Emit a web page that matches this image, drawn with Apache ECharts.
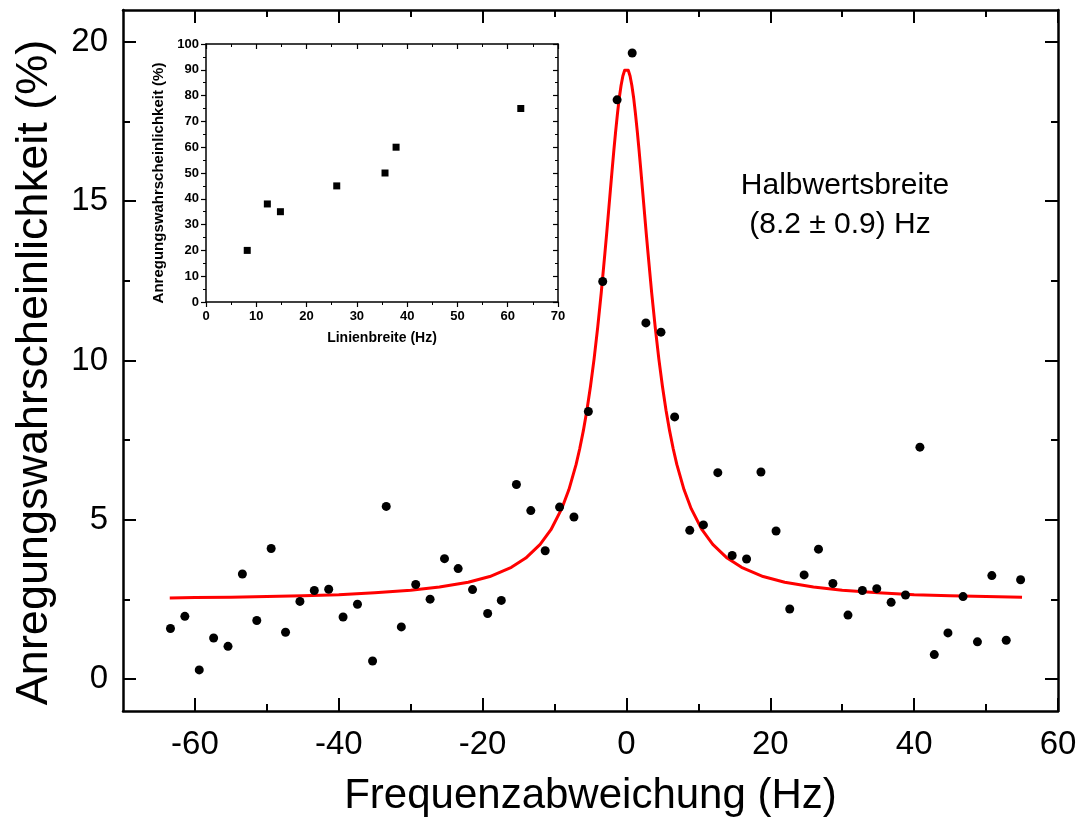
<!DOCTYPE html>
<html>
<head>
<meta charset="utf-8">
<script src="https://cdn.jsdelivr.net/npm/echarts@6/dist/echarts.min.js"></script>
<style>
html,body{margin:0;padding:0;background:#fff;}
#chart{width:1085px;height:826px;}
</style>
</head>
<body>
<div id="chart"></div>
<script>
// Main data: excitation probability vs. frequency detuning
var detuningHz = [-63.4,-61.4,-59.4,-57.4,-55.4,-53.4,-51.4,-49.4,-47.4,-45.4,-43.4,-41.4,-39.4,-37.4,-35.3,-33.4,-31.3,-29.3,-27.3,-25.3,-23.4,-21.4,-19.3,-17.4,-15.3,-13.3,-11.3,-9.3,-7.3,-5.3,-3.3,-1.3,0.8,2.7,4.8,6.7,8.8,10.7,12.7,14.7,16.7,18.7,20.8,22.7,24.7,26.7,28.7,30.8,32.8,34.8,36.8,38.8,40.8,42.8,44.7,46.8,48.8,50.8,52.8,54.8];
var probability = [1.59,1.97,0.29,1.29,1.03,3.30,1.84,4.10,1.47,2.44,2.78,2.82,1.95,2.35,0.57,5.42,1.64,2.97,2.51,3.78,3.47,2.81,2.06,2.47,6.11,5.29,4.03,5.40,5.09,8.40,12.48,18.18,19.65,11.18,10.89,8.23,4.67,4.84,6.48,3.88,3.77,6.50,4.65,2.20,3.27,4.08,3.00,2.01,2.78,2.84,2.41,2.64,7.28,0.77,1.45,2.59,1.17,3.25,1.22,3.12];

// Fit curve
var fitX = [-63.5,-60,-55,-50,-45,-40,-35,-30,-26,-22,-19,-16,-14,-12,-10.5,-9,-8,-7,-6.5,-6,-5.5,-5,-4.5,-4,-3.5,-3,-2.75,-2.5,-2.25,-2,-1.75,-1.5,-1.25,-1,-0.75,-0.5,-0.25,0,0.25,0.5,0.75,1,1.25,1.5,1.75,2,2.25,2.5,2.75,3,3.5,4,4.5,5,5.5,6,6.5,7,8,9,10.5,12,14,16,19,22,26,30,35,40,45,50,55];
var fitY = [2.55,2.56,2.57,2.59,2.62,2.65,2.71,2.79,2.89,3.04,3.22,3.51,3.80,4.23,4.69,5.35,5.95,6.74,7.23,7.79,8.44,9.19,10.05,11.04,12.14,13.36,13.99,14.65,15.31,15.97,16.60,17.20,17.75,18.24,18.63,18.93,19.11,19.17,19.11,18.93,18.63,18.24,17.75,17.20,16.60,15.97,15.31,14.65,13.99,13.36,12.14,11.04,10.05,9.19,8.44,7.79,7.23,6.74,5.95,5.35,4.69,4.23,3.80,3.51,3.22,3.04,2.89,2.79,2.71,2.65,2.62,2.59,2.57];

// Inset: excitation probability vs. line width
var insetWidthHz = [8.2,12.2,14.8,26.0,35.6,37.8,62.6];
var insetProb = [20,38,35,45,50,60,75];

// Tick values
var xMajor = [-60,-40,-20,0,20,40,60];
var xMinor = [-50,-30,-10,10,30,50];
var yMajor = [0,5,10,15,20];
var yMinor = [2.5,7.5,12.5,17.5];

function zip(a,b){var r=[];for(var i=0;i<a.length;i++)r.push([a[i],b[i]]);return r;}

var FONT = "'Liberation Sans', Arial, Helvetica, sans-serif";
var chart = echarts.init(document.getElementById('chart'), null, {renderer:'canvas'});

var lineMain = {show:true, onZero:false, lineStyle:{color:'#000', width:2.5}};
var noLine = {show:false, onZero:false};
var lineInset = {show:true, onZero:false, lineStyle:{color:'#000', width:1.5}};

function mainX(pos, vals, len, labels, showLine){
  return {
    type:'value', gridIndex:0, position:pos, min:-70, max:60,
    axisLine: showLine ? lineMain : noLine,
    axisTick:{show:true, inside:true, length:len, customValues:vals, lineStyle:{color:'#000', width:2}},
    axisLabel: labels ? {show:true, customValues:vals, fontSize:33, color:'#000', fontFamily:FONT, margin:17} : {show:false},
    splitLine:{show:false}
  };
}
function mainY(pos, vals, len, labels, showLine){
  return {
    type:'value', gridIndex:0, position:pos, min:-1, max:21,
    axisLine: showLine ? lineMain : noLine,
    axisTick:{show:true, inside:true, length:len, customValues:vals, lineStyle:{color:'#000', width:2}},
    axisLabel: labels ? {show:true, customValues:vals, fontSize:33, color:'#000', fontFamily:FONT, margin:15} : {show:false},
    splitLine:{show:false}
  };
}

var xAxes = [
  mainX('bottom', xMajor, 13, true, true),
  mainX('bottom', xMinor, 7, false, false),
  mainX('top', xMajor, 13, false, true),
  mainX('top', xMinor, 7, false, false),
  {
    type:'value', gridIndex:1, position:'bottom', min:0, max:70, interval:10,
    axisLine: lineInset,
    axisTick:{show:true, inside:false, length:5, lineStyle:{color:'#000', width:1.2}},
    minorTick:{show:true, splitNumber:2, length:3, lineStyle:{color:'#000', width:1}},
    axisLabel:{fontSize:13, fontWeight:'bold', color:'#000', fontFamily:FONT, margin:8},
    splitLine:{show:false},
    name:'Linienbreite (Hz)', nameLocation:'middle', nameGap:29,
    nameTextStyle:{fontSize:14, fontWeight:'bold', color:'#000', fontFamily:FONT}
  },
  {
    type:'value', gridIndex:1, position:'top', min:0, max:70, interval:10,
    axisLine: lineInset,
    axisTick:{show:true, inside:true, length:5, lineStyle:{color:'#000', width:1.2}},
    minorTick:{show:true, splitNumber:2, length:3, lineStyle:{color:'#000', width:1}},
    axisLabel:{show:false}, splitLine:{show:false}
  }
];
xAxes[0].name = 'Frequenzabweichung (Hz)';
xAxes[0].nameLocation = 'middle';
xAxes[0].nameGap = 64;
xAxes[0].nameTextStyle = {fontSize:42, color:'#000', fontFamily:FONT};

var yAxes = [
  mainY('left', yMajor, 13, true, true),
  mainY('left', yMinor, 7, false, false),
  mainY('right', yMajor, 13, false, true),
  mainY('right', yMinor, 7, false, false),
  {
    type:'value', gridIndex:1, position:'left', min:0, max:100, interval:10,
    axisLine: lineInset,
    axisTick:{show:true, inside:false, length:5, lineStyle:{color:'#000', width:1.2}},
    minorTick:{show:true, splitNumber:2, length:3, lineStyle:{color:'#000', width:1}},
    axisLabel:{fontSize:13, fontWeight:'bold', color:'#000', fontFamily:FONT, margin:7},
    splitLine:{show:false},
    name:'Anregungswahrscheinlichkeit (%)', nameLocation:'middle', nameGap:40, nameRotate:90,
    nameTextStyle:{fontSize:15, fontWeight:'bold', color:'#000', fontFamily:FONT, padding:[0,20,0,0]}
  },
  {
    type:'value', gridIndex:1, position:'right', min:0, max:100, interval:10,
    axisLine: lineInset,
    axisTick:{show:true, inside:true, length:5, lineStyle:{color:'#000', width:1.2}},
    minorTick:{show:true, splitNumber:2, length:3, lineStyle:{color:'#000', width:1}},
    axisLabel:{show:false}, splitLine:{show:false}
  }
];
yAxes[0].name = 'Anregungswahrscheinlichkeit (%)';
yAxes[0].nameLocation = 'middle';
yAxes[0].nameGap = 66;
yAxes[0].nameRotate = 90;
yAxes[0].nameTextStyle = {fontSize:45, color:'#000', fontFamily:FONT, padding:[0,24,0,0]};

var option = {
  animation:false,
  backgroundColor:'#fff',
  grid:[
    {left:123, right:27, top:10, bottom:115, containLabel:false},
    {left:206, top:44, width:352, height:258, containLabel:false}
  ],
  xAxis: xAxes,
  yAxis: yAxes,
  series:[
    {
      type:'line', xAxisIndex:0, yAxisIndex:0, data:zip(fitX, fitY),
      smooth:false, showSymbol:false, symbol:'none',
      lineStyle:{color:'#ff0000', width:3, join:'round'}, z:2
    },
    {
      type:'scatter', xAxisIndex:0, yAxisIndex:0, data:zip(detuningHz, probability),
      symbol:'circle', symbolSize:9, itemStyle:{color:'#000', opacity:1}, z:3
    },
    {
      type:'scatter', xAxisIndex:4, yAxisIndex:4, data:zip(insetWidthHz, insetProb),
      symbol:'rect', symbolSize:7, itemStyle:{color:'#000', opacity:1}, z:3
    }
  ],
  graphic:[
    {type:'text', x:845, y:186, style:{text:'Halbwertsbreite', fontSize:30, fontFamily:FONT, fill:'#000', align:'center', verticalAlign:'middle'}},
    {type:'text', x:840, y:225, style:{text:'(8.2 \u00b1 0.9) Hz', fontSize:30, fontFamily:FONT, fill:'#000', align:'center', verticalAlign:'middle'}}
  ]
};
chart.setOption(option);
</script>
</body>
</html>
